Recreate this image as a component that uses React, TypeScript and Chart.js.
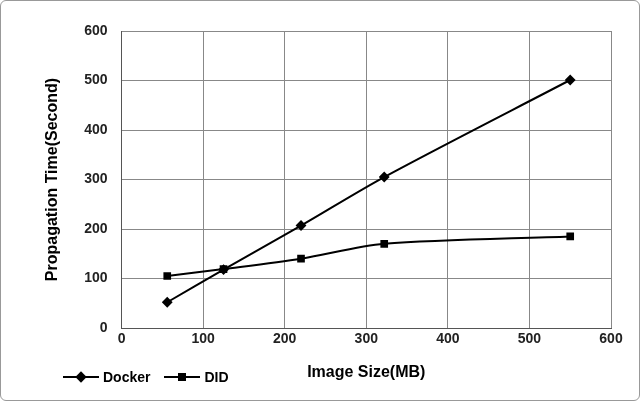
import React, { useEffect, useRef } from "react"
import { Chart, registerables } from "chart.js"

Chart.register(...registerables)

const imageSizes = [56, 125, 220, 322, 550]
const dockerTimes = [52, 118, 207, 305, 501]
const didTimes = [105, 119, 140, 170, 185]

const font = "'Liberation Sans', Arial, sans-serif"

const App: React.FC = () => {
  const chartRef = useRef<HTMLCanvasElement | null>(null)

  useEffect(() => {
    document.body.style.margin = "0"
    if (!chartRef.current) return
    const ctx = chartRef.current.getContext("2d")
    if (!ctx) return
    const chart = new Chart(ctx, {
      type: "line",
      data: {
        datasets: [
          {
            label: "Docker",
            data: imageSizes.map((x, i) => ({ x, y: dockerTimes[i] })),
            borderColor: "#000",
            backgroundColor: "#000",
            borderWidth: 2,
            pointStyle: "rectRot",
            pointRadius: 4,
            tension: 0.3,
          },
          {
            label: "DID",
            data: imageSizes.map((x, i) => ({ x, y: didTimes[i] })),
            borderColor: "#000",
            backgroundColor: "#000",
            borderWidth: 2,
            pointStyle: "rect",
            pointRadius: 4,
            tension: 0.3,
          },
        ],
      },
      options: {
        animation: false,
        responsive: false,
        layout: { padding: { top: 30, right: 28, left: 38, bottom: 14 } },
        plugins: { legend: { display: false }, tooltip: { enabled: false } },
        scales: {
          x: {
            type: "linear",
            min: 0,
            max: 600,
            ticks: { stepSize: 100, color: "#222", font: { family: font, size: 14, weight: "bold" } },
            grid: { color: "#888", drawTicks: false },
            border: { color: "#555" },
            title: {
              display: true,
              text: "Image Size(MB)",
              color: "#000",
              font: { family: font, size: 16, weight: "bold" },
              padding: { top: 12 },
            },
          },
          y: {
            min: 0,
            max: 600,
            ticks: { stepSize: 100, color: "#222", padding: 14, font: { family: font, size: 14, weight: "bold" } },
            grid: { color: "#888", drawTicks: false },
            border: { color: "#555" },
            title: {
              display: true,
              text: "Propagation Time(Second)",
              color: "#000",
              font: { family: font, size: 16, weight: "bold" },
              padding: { bottom: 8 },
            },
          },
        },
      },
    })
    return () => chart.destroy()
  }, [])

  const legendItem = (label: string, shape: "diamond" | "square") => (
    <span style={{ display: "inline-flex", alignItems: "center", marginRight: 14 }}>
      <span style={{ position: "relative", width: 36, height: 10, display: "inline-block" }}>
        <span style={{ position: "absolute", left: 0, right: 0, top: 4, height: 2, background: "#000" }} />
        <span
          style={{
            position: "absolute",
            left: 14,
            top: 1,
            width: 8,
            height: 8,
            background: "#000",
            transform: shape === "diamond" ? "rotate(45deg)" : "none",
          }}
        />
      </span>
      <span style={{ marginLeft: 4 }}>{label}</span>
    </span>
  )

  return (
    <div
      style={{
        position: "relative",
        width: 638,
        height: 399,
        border: "1px solid #999",
        borderRadius: 6,
        background: "#fff",
      }}
    >
      <canvas ref={chartRef} width={638} height={399} />
      <div
        style={{
          position: "absolute",
          left: 62,
          top: 368,
          fontFamily: font,
          fontWeight: "bold",
          fontSize: 14,
          color: "#000",
        }}
      >
        {legendItem("Docker", "diamond")}
        {legendItem("DID", "square")}
      </div>
    </div>
  )
}

export default App
